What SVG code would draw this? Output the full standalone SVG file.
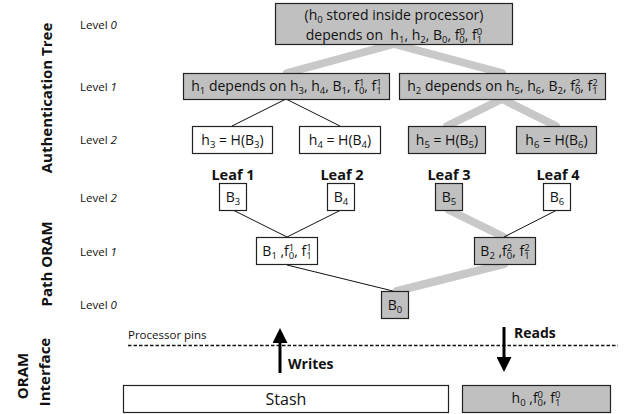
<svg xmlns="http://www.w3.org/2000/svg" width="624" height="414" viewBox="0 0 624 414">
<style>
text{font-family:"Open Sans",Lato,"Liberation Sans",sans-serif;fill:#111}
.t{font-size:14px;text-anchor:middle}
.s{font-size:9.5px}
.lv{font-size:11.5px}
.lv tspan{font-style:italic}
.side{font-size:15px;font-weight:bold;text-anchor:middle}
.leaf{font-size:14.5px;font-weight:bold;text-anchor:middle}
.bx{fill:#fff;stroke:#222;stroke-width:1.2}
.gb{fill:#c0c0c0;stroke:#222;stroke-width:1.2}
.thin{stroke:#111;stroke-width:1;fill:none}
.thick{stroke:#c8c8c8;stroke-width:8;fill:none;stroke-linecap:round}
</style>
<defs>
<marker id="ah" markerWidth="5" markerHeight="5" refX="1" refY="2.5" orient="auto" markerUnits="strokeWidth">
<path d="M0,0 L5,2.5 L0,5 z" fill="#000"/>
</marker>
</defs>

<!-- side labels -->
<text class="side" transform="translate(52,98) rotate(-90)">Authentication Tree</text>
<text class="side" transform="translate(52,264) rotate(-90)">Path ORAM</text>
<text class="side" transform="translate(28,376) rotate(-90)">ORAM</text>
<text class="side" transform="translate(50,372) rotate(-90)">Interface</text>

<!-- level labels -->
<text class="lv" x="80" y="29">Level <tspan>0</tspan></text>
<text class="lv" x="80" y="91">Level <tspan>1</tspan></text>
<text class="lv" x="80" y="144">Level <tspan>2</tspan></text>
<text class="lv" x="80" y="202">Level <tspan>2</tspan></text>
<text class="lv" x="80" y="256">Level <tspan>1</tspan></text>
<text class="lv" x="80" y="309">Level <tspan>0</tspan></text>

<!-- connectors -->
<g id="connectors">
<line class="thick" x1="394" y1="44" x2="287" y2="73"/>
<line class="thick" x1="394" y1="44" x2="502" y2="73"/>
<line class="thick" x1="502" y1="99" x2="447" y2="126"/>
<line class="thick" x1="502" y1="99" x2="556" y2="126"/>
<line class="thin" x1="286" y1="99" x2="232" y2="126"/>
<line class="thin" x1="286" y1="99" x2="340" y2="126"/>
<line class="thin" x1="233" y1="210" x2="287" y2="237"/>
<line class="thin" x1="341" y1="210" x2="287" y2="237"/>
<line class="thick" x1="449" y1="210" x2="504" y2="237"/>
<line class="thin" x1="557" y1="210" x2="504" y2="237"/>
<line class="thin" x1="287" y1="265" x2="393" y2="291"/>
<line class="thick" x1="504" y1="264" x2="397" y2="291"/>
<line x1="128" y1="345.5" x2="618" y2="345.5" stroke="#111" stroke-width="1.6" stroke-dasharray="3.5,2"/>
<line x1="280" y1="373" x2="280" y2="340" stroke="#000" stroke-width="3" marker-end="url(#ah)"/>
<line x1="504" y1="327" x2="504" y2="360" stroke="#000" stroke-width="3" marker-end="url(#ah)"/>
</g>

<!-- authentication tree -->
<g id="root">
<rect class="gb" x="275.5" y="3.5" width="237" height="41"/>
<text class="t" x="394" y="20">(h<tspan class="s" dy="3">0</tspan><tspan dy="-3"> stored inside processor)</tspan></text>
<text class="t" x="394" y="40" style="white-space:pre">depends on  h<tspan class="s" dy="3">1</tspan><tspan dy="-3">, h</tspan><tspan class="s" dy="3">2</tspan><tspan dy="-3">, B</tspan><tspan class="s" dy="3">0</tspan><tspan dy="-3">, f</tspan><tspan class="s" dy="-5">0</tspan><tspan class="s" dx="-5.5" dy="8">0</tspan><tspan dy="-3">, f</tspan><tspan class="s" dy="-5">0</tspan><tspan class="s" dx="-5.5" dy="8">1</tspan></text>
</g>
<g id="h1">
<rect class="gb" x="183.5" y="73.5" width="206" height="26"/>
<text class="t" x="286.5" y="91">h<tspan class="s" dy="3">1</tspan><tspan dy="-3"> depends on h</tspan><tspan class="s" dy="3">3</tspan><tspan dy="-3">, h</tspan><tspan class="s" dy="3">4</tspan><tspan dy="-3">, B</tspan><tspan class="s" dy="3">1</tspan><tspan dy="-3">, f</tspan><tspan class="s" dy="-5">1</tspan><tspan class="s" dx="-5.5" dy="8">0</tspan><tspan dy="-3">, f</tspan><tspan class="s" dy="-5">1</tspan><tspan class="s" dx="-5.5" dy="8">1</tspan></text>
</g>
<g id="h2">
<rect class="gb" x="399.5" y="73.5" width="206" height="26"/>
<text class="t" x="502.5" y="91">h<tspan class="s" dy="3">2</tspan><tspan dy="-3"> depends on h</tspan><tspan class="s" dy="3">5</tspan><tspan dy="-3">, h</tspan><tspan class="s" dy="3">6</tspan><tspan dy="-3">, B</tspan><tspan class="s" dy="3">2</tspan><tspan dy="-3">, f</tspan><tspan class="s" dy="-5">2</tspan><tspan class="s" dx="-5.5" dy="8">0</tspan><tspan dy="-3">, f</tspan><tspan class="s" dy="-5">2</tspan><tspan class="s" dx="-5.5" dy="8">1</tspan></text>
</g>
<g id="h3">
<rect class="bx" x="192.5" y="126.5" width="80" height="27"/>
<text class="t" x="232.5" y="145">h<tspan class="s" dy="3">3</tspan><tspan dy="-3"> = H(B</tspan><tspan class="s" dy="3">3</tspan><tspan dy="-3">)</tspan></text>
</g>
<g id="h4">
<rect class="bx" x="299.5" y="126.5" width="81" height="27"/>
<text class="t" x="340" y="145">h<tspan class="s" dy="3">4</tspan><tspan dy="-3"> = H(B</tspan><tspan class="s" dy="3">4</tspan><tspan dy="-3">)</tspan></text>
</g>
<g id="h5">
<rect class="gb" x="408.5" y="126.5" width="77" height="27"/>
<text class="t" x="447" y="145">h<tspan class="s" dy="3">5</tspan><tspan dy="-3"> = H(B</tspan><tspan class="s" dy="3">5</tspan><tspan dy="-3">)</tspan></text>
</g>
<g id="h6">
<rect class="gb" x="516.5" y="126.5" width="80" height="27"/>
<text class="t" x="556.5" y="145">h<tspan class="s" dy="3">6</tspan><tspan dy="-3"> = H(B</tspan><tspan class="s" dy="3">6</tspan><tspan dy="-3">)</tspan></text>
</g>

<!-- leaves labels -->
<text class="leaf" x="233" y="180">Leaf 1</text>
<text class="leaf" x="342" y="180">Leaf 2</text>
<text class="leaf" x="449" y="180">Leaf 3</text>
<text class="leaf" x="558" y="180">Leaf 4</text>

<!-- path ORAM -->
<g id="B3">
<rect class="bx" x="219.5" y="183.5" width="27" height="27"/>
<text class="t" x="233" y="202">B<tspan class="s" dy="3">3</tspan></text>
</g>
<g id="B4">
<rect class="bx" x="327.5" y="183.5" width="27" height="27"/>
<text class="t" x="341" y="202">B<tspan class="s" dy="3">4</tspan></text>
</g>
<g id="B5">
<rect class="gb" x="435.5" y="183.5" width="27" height="27"/>
<text class="t" x="449" y="202">B<tspan class="s" dy="3">5</tspan></text>
</g>
<g id="B6">
<rect class="bx" x="543.5" y="183.5" width="27" height="27"/>
<text class="t" x="557" y="202">B<tspan class="s" dy="3">6</tspan></text>
</g>
<g id="B1">
<rect class="bx" x="256.5" y="237.5" width="61" height="27"/>
<text class="t" x="287" y="256">B<tspan class="s" dy="3">1</tspan><tspan dy="-3"> ,f</tspan><tspan class="s" dy="-5">1</tspan><tspan class="s" dx="-5.5" dy="8">0</tspan><tspan dy="-3">, f</tspan><tspan class="s" dy="-5">1</tspan><tspan class="s" dx="-5.5" dy="8">1</tspan></text>
</g>
<g id="B2">
<rect class="gb" x="474.5" y="237.5" width="61" height="27"/>
<text class="t" x="505" y="256">B<tspan class="s" dy="3">2</tspan><tspan dy="-3"> ,f</tspan><tspan class="s" dy="-5">2</tspan><tspan class="s" dx="-5.5" dy="8">0</tspan><tspan dy="-3">, f</tspan><tspan class="s" dy="-5">2</tspan><tspan class="s" dx="-5.5" dy="8">1</tspan></text>
</g>
<g id="B0">
<rect class="gb" x="381.5" y="291.5" width="27" height="27"/>
<text class="t" x="395" y="310">B<tspan class="s" dy="3">0</tspan></text>
</g>

<!-- interface -->
<text x="128" y="339" font-size="11.5">Processor pins</text>
<text x="288" y="369" font-size="14" font-weight="bold">Writes</text>
<text x="514" y="338" font-size="14" font-weight="bold">Reads</text>
<g id="stash">
<rect class="bx" x="123.5" y="385.5" width="325" height="27"/>
<text x="286" y="405" font-size="16" text-anchor="middle">Stash</text>
</g>
<g id="readbuf">
<rect class="gb" x="462.5" y="385.5" width="148" height="27"/>
<text class="t" x="536" y="403" font-size="13">h<tspan class="s" dy="3">0</tspan><tspan dy="-3"> ,f</tspan><tspan class="s" dy="-5">0</tspan><tspan class="s" dx="-5.5" dy="8">0</tspan><tspan dy="-3">, f</tspan><tspan class="s" dy="-5">0</tspan><tspan class="s" dx="-5.5" dy="8">1</tspan></text>
</g>
</svg>
